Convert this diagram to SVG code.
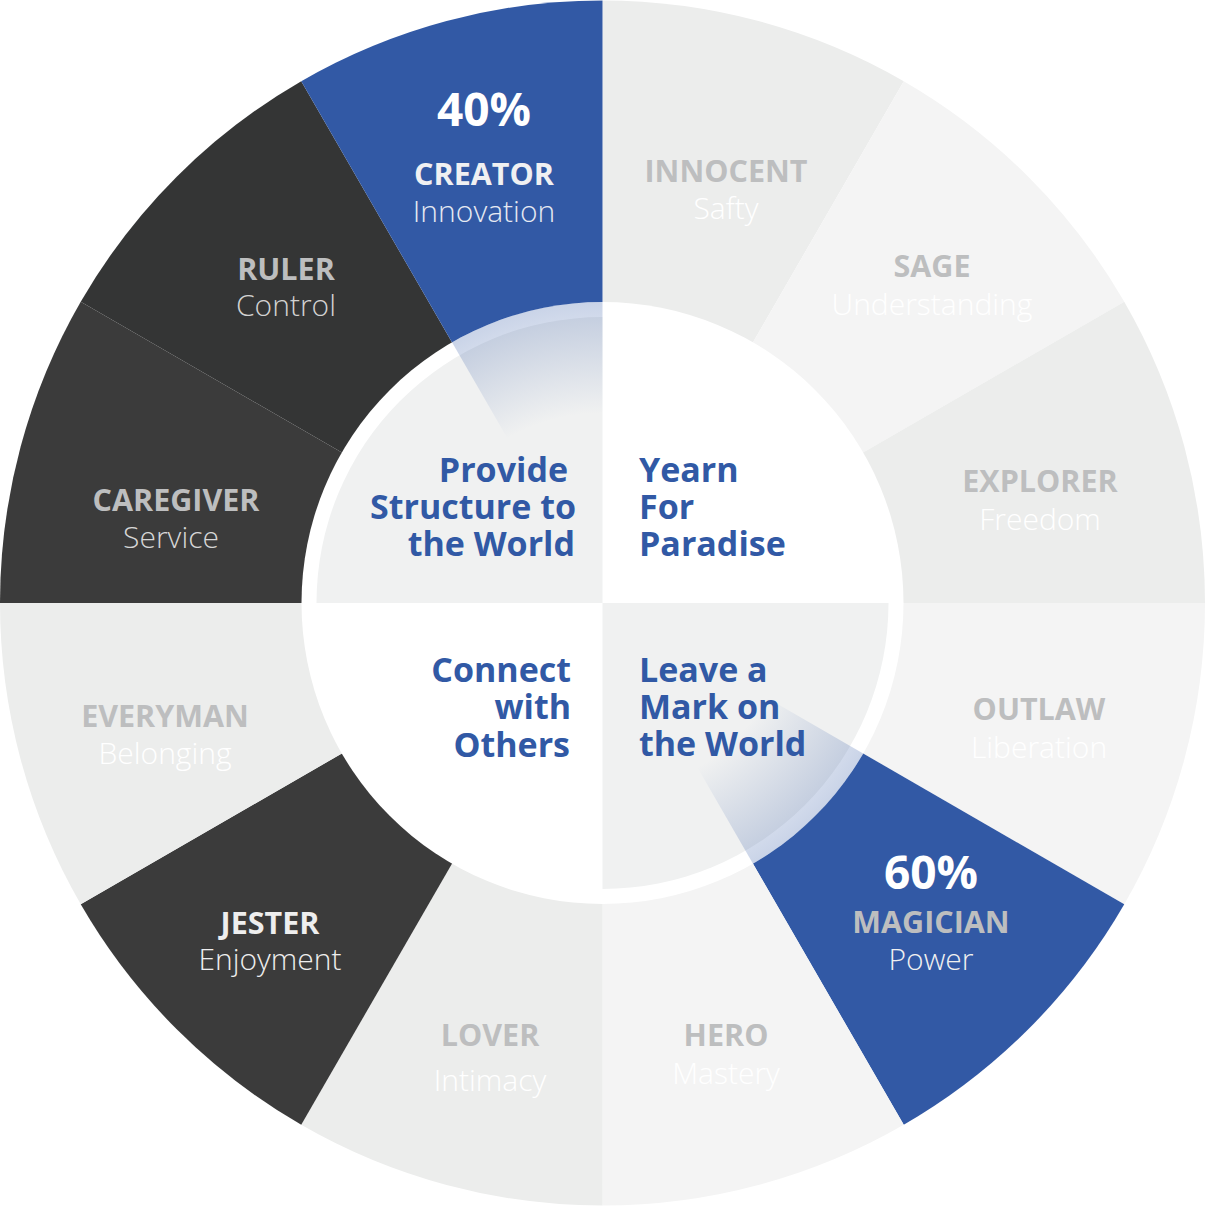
<svg xmlns="http://www.w3.org/2000/svg" width="1205" height="1206" viewBox="0 0 1205 1206">
<style>
.lbl{font-family:"Open Sans","Liberation Sans",sans-serif;font-weight:700;font-size:30.5px;text-anchor:middle;fill:#bdbebf}
.sub{font-family:"Open Sans","Liberation Sans",sans-serif;font-weight:300;font-size:30px;text-anchor:middle;fill:#ffffff}
.pct{font-family:"Open Sans","Liberation Sans",sans-serif;font-weight:700;font-size:46px;text-anchor:middle;fill:#ffffff}
.inner{font-family:"Open Sans","Liberation Sans",sans-serif;font-weight:700;font-size:34px;fill:#3159a5}
.blue{fill:#3259a5}
.dark1{fill:#343535}
.dark2{fill:#3b3b3b}
.l1{fill:#ecedec}
.l2{fill:#f4f4f4}
</style>
<defs>
<radialGradient id="glow" gradientUnits="userSpaceOnUse" cx="602.5" cy="603" r="301">
<stop offset="0.63" stop-color="#3259a5" stop-opacity="0"/>
<stop offset="1" stop-color="#3259a5" stop-opacity="0.26"/>
</radialGradient>
</defs>
<rect width="1205" height="1206" fill="#ffffff"/>
<g id="segments">
<g id="innocent"><path class="l1" d="M602.5 603 L602.5 0.5 A602.5 602.5 0 0 1 903.75 81.23 Z"/>
<text class="lbl" x="726" y="182">INNOCENT</text><text class="sub" x="726" y="219">Safty</text></g>
<g id="sage"><path class="l2" d="M602.5 603 L903.75 81.23 A602.5 602.5 0 0 1 1124.27 301.75 Z"/>
<text class="lbl" x="932" y="277">SAGE</text><text class="sub" x="932" y="315">Understanding</text></g>
<g id="explorer"><path class="l1" d="M602.5 603 L1124.27 301.75 A602.5 602.5 0 0 1 1205 603 Z"/>
<text class="lbl" x="1040" y="492">EXPLORER</text><text class="sub" x="1040" y="530">Freedom</text></g>
<g id="outlaw"><path class="l2" d="M602.5 603 L1205 603 A602.5 602.5 0 0 1 1124.27 904.25 Z"/>
<text class="lbl" x="1039" y="720">OUTLAW</text><text class="sub" x="1039" y="758">Liberation</text></g>
<g id="magician"><path class="blue" d="M602.5 603 L1124.27 904.25 A602.5 602.5 0 0 1 903.75 1124.77 Z"/>
<text class="pct" x="931" y="889">60%</text>
<text class="lbl" x="931" y="933">MAGICIAN</text><text class="sub" x="931" y="970" style="fill:#f0f0f0">Power</text></g>
<g id="hero"><path class="l2" d="M602.5 603 L903.75 1124.77 A602.5 602.5 0 0 1 602.5 1205.5 Z"/>
<text class="lbl" x="726" y="1046">HERO</text><text class="sub" x="726" y="1084">Mastery</text></g>
<g id="lover"><path class="l1" d="M602.5 603 L602.5 1205.5 A602.5 602.5 0 0 1 301.25 1124.77 Z"/>
<text class="lbl" x="490" y="1046">LOVER</text><text class="sub" x="490" y="1091">Intimacy</text></g>
<g id="jester"><path class="dark2" d="M602.5 603 L301.25 1124.77 A602.5 602.5 0 0 1 80.73 904.25 Z"/>
<text class="lbl" x="270" y="934" style="fill:#eeeeee">JESTER</text><text class="sub" x="270" y="970" style="fill:#eeeeee">Enjoyment</text></g>
<g id="everyman"><path class="l1" d="M602.5 603 L80.73 904.25 A602.5 602.5 0 0 1 0 603 Z"/>
<text class="lbl" x="165" y="727">EVERYMAN</text><text class="sub" x="165" y="764">Belonging</text></g>
<g id="caregiver"><path class="dark2" d="M602.5 603 L0 603 A602.5 602.5 0 0 1 80.73 301.75 Z"/>
<text class="lbl" x="176" y="511">CAREGIVER</text><text class="sub" x="171" y="548" style="fill:#d6d6d6">Service</text></g>
<g id="ruler"><path class="dark1" d="M602.5 603 L80.73 301.75 A602.5 602.5 0 0 1 301.25 81.23 Z"/>
<text class="lbl" x="286" y="280">RULER</text><text class="sub" x="286" y="316" style="fill:#d2d2d2">Control</text></g>
<g id="creator"><path class="blue" d="M602.5 603 L301.25 81.23 A602.5 602.5 0 0 1 602.5 0.5 Z"/>
<text class="pct" x="484" y="126">40%</text>
<text class="lbl" x="484" y="185" style="fill:#f0f0f2">CREATOR</text><text class="sub" x="484" y="222" style="fill:#e6e9f2">Innovation</text></g>
</g>
<g id="core">
<circle cx="602.5" cy="603" r="301" fill="#ffffff"/>
<path id="q-tl" d="M602.5 603 L316.5 603 A286 286 0 0 1 602.5 317 Z" fill="#f0f1f1"/>
<path id="q-br" d="M602.5 603 L888.5 603 A286 286 0 0 1 602.5 889 Z" fill="#f0f1f1"/>
<path id="glow-creator" d="M602.5 603 L452 342.33 A301 301 0 0 1 602.5 302 Z" fill="url(#glow)"/>
<path id="glow-magician" d="M602.5 603 L863.17 753.5 A301 301 0 0 1 753 863.67 Z" fill="url(#glow)"/>
</g>
<g id="quad-structure"><text class="inner" text-anchor="end"><tspan x="568" y="482">Provide</tspan><tspan x="576" y="519">Structure to</tspan><tspan x="575" y="556">the World</tspan></text></g>
<g id="quad-paradise"><text class="inner"><tspan x="639" y="482">Yearn</tspan><tspan x="639" y="519">For</tspan><tspan x="639" y="556">Paradise</tspan></text></g>
<g id="quad-connect"><text class="inner" text-anchor="end"><tspan x="571" y="682">Connect</tspan><tspan x="571" y="719">with</tspan><tspan x="570" y="757">Others</tspan></text></g>
<g id="quad-mark"><text class="inner"><tspan x="639" y="682">Leave a</tspan><tspan x="639" y="719">Mark on</tspan><tspan x="639" y="756">the World</tspan></text></g>
<g id="connectors"/>
</svg>
